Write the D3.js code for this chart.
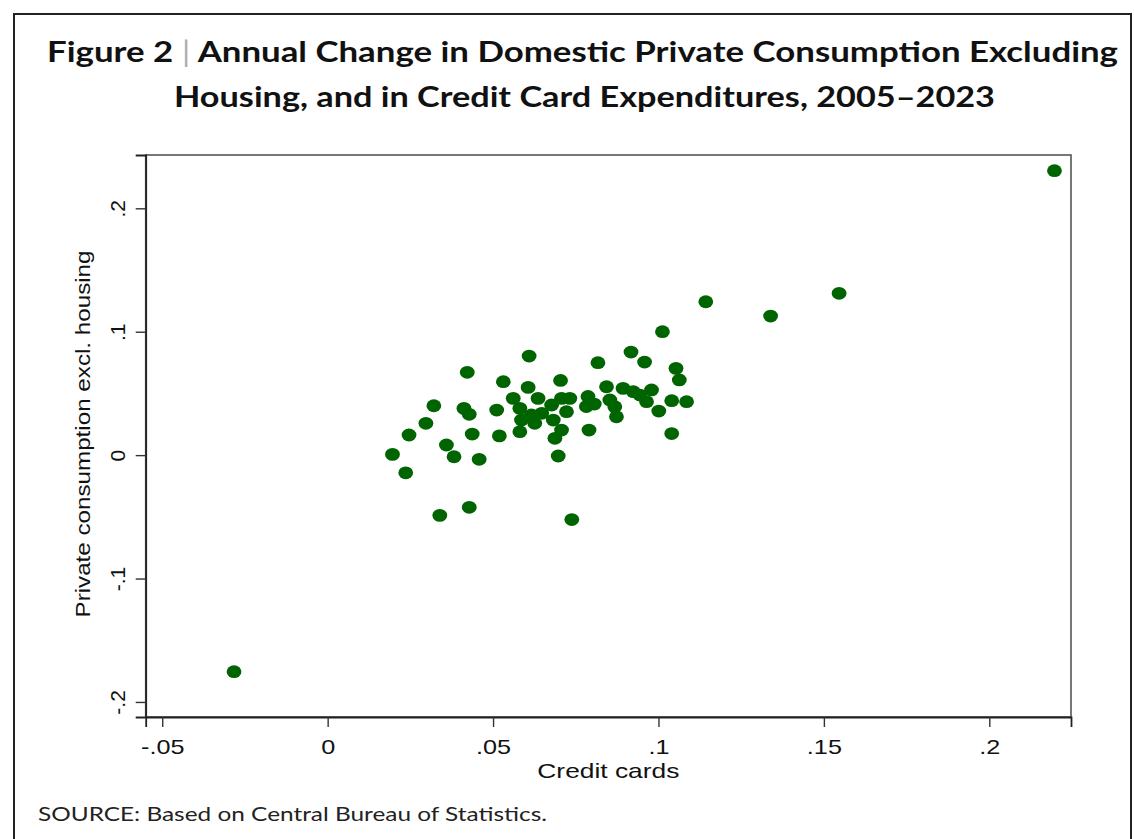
<!DOCTYPE html>
<html>
<head>
<meta charset="utf-8">
<script src="https://cdn.jsdelivr.net/npm/d3@7"></script>
<style>
  html, body { margin: 0; padding: 0; background: #fff; }
  svg { display: block; }
</style>
</head>
<body>
<svg id="chart" width="1134" height="839"></svg>
<script>
// ---- data ----
const creditCards = [
  0.0609, 0.0422, 0.0531, 0.0606, 0.0704, 0.0561, 0.0321, 0.0412, 0.0428, 0.0511,
  0.0297, 0.0246, 0.0437, 0.0519, 0.0359, 0.0196, 0.0382, 0.0458, 0.0236, 0.0428,
  0.0339, 0.0697, 0.0738, 0.0636, 0.0581, 0.0616, 0.0586, 0.0647, 0.0677, 0.0707,
  0.0732, 0.0722, 0.0682, 0.0581, 0.0707, 0.0687, 0.0626, 0.0787, 0.0782, 0.0806,
  0.0843, 0.0853, 0.0868, 0.0873, 0.0893, 0.0924, 0.0944, 0.0979, 0.0964, 0.1040,
  0.1085, 0.1001, 0.0790, 0.1040, 0.0817, 0.0917, 0.0958, 0.1053, 0.1063, 0.1012,
  0.1143, 0.1339, 0.1546, 0.2197, -0.0283
];
const privateConsumption = [
  0.0803, 0.0671, 0.0595, 0.0549, 0.0605, 0.0460, 0.0400, 0.0379, 0.0331, 0.0365,
  0.0258, 0.0163, 0.0171, 0.0156, 0.0082, 0.0006, -0.0013, -0.0034, -0.0143, -0.0423,
  -0.0488, -0.0007, -0.0522, 0.0460, 0.0379, 0.0325, 0.0284, 0.0339, 0.0406, 0.0460,
  0.0460, 0.0352, 0.0284, 0.0190, 0.0203, 0.0136, 0.0258, 0.0475, 0.0394, 0.0414,
  0.0554, 0.0447, 0.0392, 0.0311, 0.0541, 0.0514, 0.0487, 0.0528, 0.0433, 0.0441,
  0.0433, 0.0357, 0.0203, 0.0175, 0.0749, 0.0835, 0.0754, 0.0703, 0.0609, 0.1000,
  0.1243, 0.1127, 0.1311, 0.2305, -0.1755
];
const xTicks = [-0.05, 0, 0.05, 0.1, 0.15, 0.2];
const xTickLabels = ["-.05", "0", ".05", ".1", ".15", ".2"];
const yTicks = [-0.2, -0.1, 0, 0.1, 0.2];
const yTickLabels = ["-.2", "-.1", "0", ".1", ".2"];
const xDomain = [-0.0550, 0.2247];
const yDomain = [-0.2122, 0.2432];
const titleLine1 = ["Figure 2", "|", "Annual Change in Domestic Private Consumption Excluding"];
const titleLine2 = "Housing, and in Credit Card Expenditures, 2005\u20132023";
const xTitle = "Credit cards";
const yTitle = "Private consumption excl. housing";
const sourceText = "SOURCE: Based on Central Bureau of Statistics.";

// ---- layout ----
const svg = d3.select("#chart");
const plot = { left: 145.7, right: 1071, top: 155, bottom: 717 };
const axisFont = "'Liberation Sans', Arial, sans-serif";
const titleFont = "Lato, 'Open Sans', sans-serif";
const STRETCH = 1.2;

svg.append("rect").attr("width", 1134).attr("height", 839).attr("fill", "#fff");
// outer border
svg.append("rect")
  .attr("x", 14).attr("y", 14).attr("width", 1117).attr("height", 850)
  .attr("fill", "none").attr("stroke", "#222").attr("stroke-width", 2);

// title
const t1 = svg.append("text")
  .attr("x", 47).attr("y", 62)
  .attr("font-family", titleFont).attr("font-weight", 700).attr("font-size", 29)
  .attr("fill", "#111")
  .attr("textLength", 1071).attr("lengthAdjust", "spacingAndGlyphs");
t1.append("tspan").text(titleLine1[0] + " ");
t1.append("tspan").attr("fill", "#b0b0b0").attr("font-weight", 400).text(titleLine1[1]);
t1.append("tspan").text(" " + titleLine1[2]);

svg.append("text")
  .attr("x", 174).attr("y", 107)
  .attr("font-family", titleFont).attr("font-weight", 700).attr("font-size", 29)
  .attr("fill", "#111")
  .attr("textLength", 821).attr("lengthAdjust", "spacingAndGlyphs")
  .text(titleLine2);

// scales
const x = d3.scaleLinear().domain(xDomain).range([plot.left, plot.right]);
const y = d3.scaleLinear().domain(yDomain).range([plot.bottom, plot.top]);

// plot frame
svg.append("rect")
  .attr("x", plot.left).attr("y", plot.top)
  .attr("width", plot.right - plot.left).attr("height", plot.bottom - plot.top)
  .attr("fill", "#fff").attr("stroke", "#555").attr("stroke-width", 1.6);

// x axis
const gx = svg.append("g")
  .attr("transform", `translate(0,${plot.bottom})`)
  .call(d3.axisBottom(x).tickValues(xTicks).tickSize(10)
        .tickFormat((d, i) => xTickLabels[i]));
gx.select(".domain").attr("stroke", "#222").attr("stroke-width", 1.8);
gx.selectAll(".tick line").attr("stroke", "#333").attr("stroke-width", 1.4);
gx.selectAll(".tick text")
  .attr("y", 37).attr("dy", 0)
  .attr("font-family", axisFont).attr("font-size", 21).attr("fill", "#111")
  .each(function () {
    const w = this.getComputedTextLength();
    d3.select(this).attr("textLength", w * STRETCH).attr("lengthAdjust", "spacingAndGlyphs");
  });

// y axis
const gy = svg.append("g")
  .attr("transform", `translate(${plot.left},0)`)
  .call(d3.axisLeft(y).tickValues(yTicks).tickSize(10)
        .tickFormat((d, i) => yTickLabels[i]));
gy.select(".domain").attr("stroke", "#222").attr("stroke-width", 1.8);
gy.selectAll(".tick line").attr("stroke", "#333").attr("stroke-width", 1.4);
gy.selectAll(".tick text")
  .attr("x", 0).attr("dy", 0)
  .attr("transform", "translate(-21,0) rotate(-90)")
  .attr("text-anchor", "middle")
  .attr("font-family", axisFont).attr("font-size", 21).attr("fill", "#111");

// axis titles
svg.append("text")
  .attr("x", (plot.left + plot.right) / 2).attr("y", 778)
  .attr("text-anchor", "middle")
  .attr("font-family", axisFont).attr("font-size", 21).attr("fill", "#111")
  .attr("textLength", 142).attr("lengthAdjust", "spacingAndGlyphs")
  .text(xTitle);

svg.append("text")
  .attr("transform", `translate(90,434) rotate(-90)`)
  .attr("text-anchor", "middle")
  .attr("font-family", axisFont).attr("font-size", 21).attr("fill", "#111")
  .attr("textLength", 367).attr("lengthAdjust", "spacingAndGlyphs")
  .text(yTitle);

// points
const points = creditCards.map((v, i) => ({ cx: v, cy: privateConsumption[i] }));
svg.append("g").selectAll("ellipse")
  .data(points).join("ellipse")
  .attr("cx", d => x(d.cx)).attr("cy", d => y(d.cy))
  .attr("rx", 7.4).attr("ry", 6.4)
  .attr("fill", "#006400");

// source
svg.append("text")
  .attr("x", 38).attr("y", 821)
  .attr("font-family", titleFont).attr("font-size", 19).attr("fill", "#222")
  .attr("textLength", 509).attr("lengthAdjust", "spacingAndGlyphs")
  .text(sourceText);
</script>
</body>
</html>
